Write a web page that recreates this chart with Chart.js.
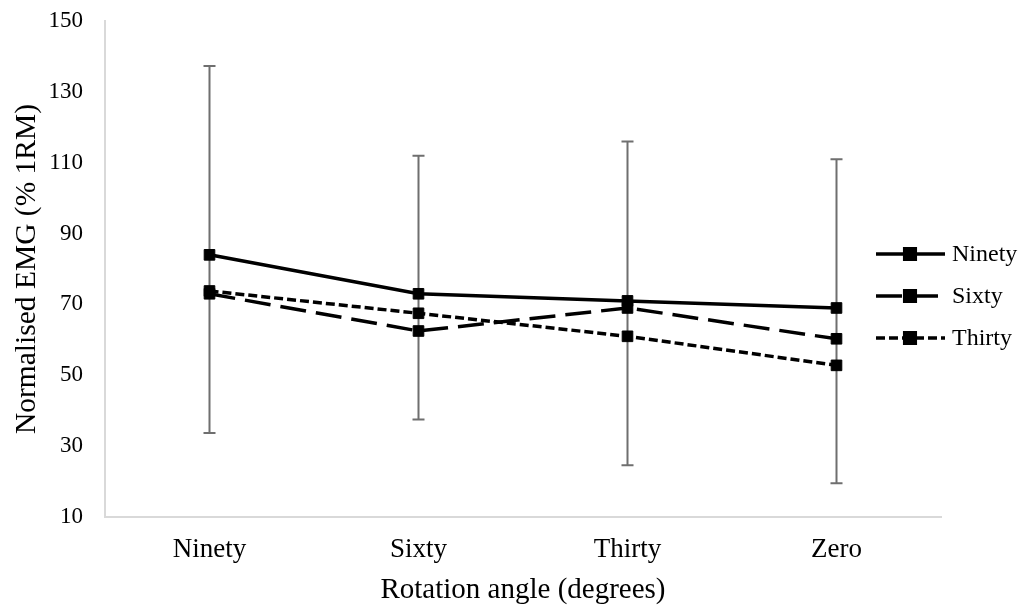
<!DOCTYPE html>
<html lang="en">
<head>
<meta charset="UTF-8">
<title>Normalised EMG</title>
<script src="https://cdn.jsdelivr.net/npm/chart.js"></script>
<style>
    html, body { margin: 0; padding: 0; background: #fff; }
    #wrap { width: 1021px; height: 611px; }
</style>
</head>
<body>
<div id="wrap"><canvas id="chart"></canvas></div>
<script>
// data
const categories = ['Ninety', 'Sixty', 'Thirty', 'Zero'];
const ninety = [84, 73, 71, 69];
const sixty = [73, 62.5, 69, 60.3];
const thirty = [73.8, 67.5, 61, 52.8];
// error bar ends per category
const errHigh = [137.3, 112, 116, 111];
const errLow = [33.7, 37.5, 24.6, 19.5];
const yTicks = [10, 30, 50, 70, 90, 110, 130, 150];

const serif = '"Liberation Serif", "Times New Roman", serif';

function series(label, data, dash) {
    return {
        label: label,
        data: data,
        borderColor: '#000',
        backgroundColor: '#000',
        borderWidth: 3.5,
        borderDash: dash,
        pointStyle: 'rect',
        pointRadius: 7.5,
        pointBorderWidth: 1,
        pointBackgroundColor: '#000',
        pointBorderColor: '#000',
        tension: 0,
        fill: false
    };
}

// grey error bars, drawn behind the lines
const errorBars = {
    id: 'errorBars',
    beforeDatasetsDraw(chart) {
        const ctx = chart.ctx;
        const x = chart.scales.x, y = chart.scales.y;
        ctx.save();
        ctx.strokeStyle = '#6f6f6f';
        ctx.lineWidth = 2;
        categories.forEach((c, i) => {
            const px = x.getPixelForValue(i);
            const top = y.getPixelForValue(errHigh[i]);
            const bot = y.getPixelForValue(errLow[i]);
            ctx.beginPath();
            ctx.moveTo(px, top); ctx.lineTo(px, bot);
            ctx.moveTo(px - 6, top); ctx.lineTo(px + 6, top);
            ctx.moveTo(px - 6, bot); ctx.lineTo(px + 6, bot);
            ctx.stroke();
        });
        ctx.restore();
    }
};

// legend sits on the right, over the plot edge like the original
const sideLegend = {
    id: 'sideLegend',
    afterDraw(chart) {
        const ctx = chart.ctx;
        ctx.save();
        chart.data.datasets.forEach((ds, i) => {
            const yy = 254 + i * 42;
            ctx.strokeStyle = '#000';
            ctx.lineWidth = 3.5;
            ctx.setLineDash(ds.borderDash || []);
            ctx.beginPath();
            ctx.moveTo(876, yy); ctx.lineTo(945, yy);
            ctx.stroke();
            ctx.setLineDash([]);
            Chart.helpers.drawPoint(ctx, { pointStyle: 'rect', radius: 7.5, borderWidth: 1 }, 910, yy);
            ctx.fillStyle = '#000';
            ctx.fill();
            ctx.font = '24px ' + serif;
            ctx.textBaseline = 'middle';
            ctx.textAlign = 'left';
            ctx.fillText(ds.label, 952, yy + 1);
        });
        ctx.restore();
    }
};

new Chart(document.getElementById('chart'), {
    type: 'line',
    data: {
        labels: categories,
        datasets: [
            series('Ninety', ninety, []),
            series('Sixty', sixty, [26, 10]),
            series('Thirty', thirty, [9, 4])
        ]
    },
    options: {
        responsive: true,
        maintainAspectRatio: false,
        animation: false,
        layout: { padding: { top: 21, right: 80, left: 0, bottom: 0 } },
        plugins: {
            legend: { display: false },
            tooltip: { enabled: false }
        },
        scales: {
            x: {
                offset: true,
                grid: { display: false, drawTicks: false },
                border: { display: true, color: '#d9d9d9', width: 2 },
                ticks: { color: '#000', padding: 17, font: { family: serif, size: 27 } },
                title: {
                    display: true,
                    text: 'Rotation angle (degrees)',
                    color: '#000',
                    font: { family: serif, size: 29 },
                    padding: { top: 0, bottom: 3 }
                },
                afterFit(s) { s.height = 94; }
            },
            y: {
                min: 10,
                max: 150,
                afterBuildTicks(s) { s.ticks = yTicks.map(v => ({ value: v })); },
                grid: { display: false, drawTicks: false },
                border: { display: true, color: '#d9d9d9', width: 2 },
                ticks: { color: '#000', padding: 22, font: { family: serif, size: 23 } },
                title: {
                    display: true,
                    text: 'Normalised EMG (% 1RM)',
                    color: '#000',
                    font: { family: serif, size: 29.5 },
                    padding: { top: 10, bottom: 0 }
                },
                afterFit(s) {
                    s.width = 105;
                    s.paddingTop = 0;
                    s.paddingBottom = 0;
                }
            }
        }
    },
    plugins: [errorBars, sideLegend]
});
</script>
</body>
</html>
